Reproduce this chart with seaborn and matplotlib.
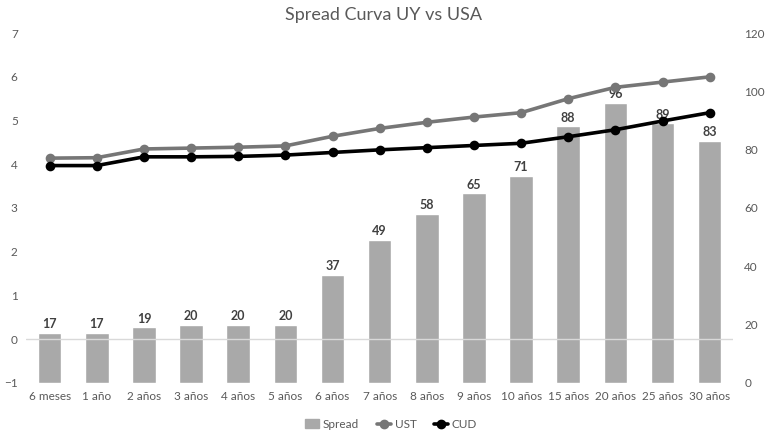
import numpy as np
import pandas as pd
import matplotlib
matplotlib.use("Agg")
import matplotlib.pyplot as plt
import seaborn as sns
from matplotlib.patches import Patch
from matplotlib.lines import Line2D

# ------------------------------------------------------------------
# DATOS
# ------------------------------------------------------------------
plazos = ["6 meses", "1 año", "2 años", "3 años", "4 años", "5 años", "6 años",
          "7 años", "8 años", "9 años", "10 años", "15 años", "20 años",
          "25 años", "30 años"]
spread = [17, 17, 19, 20, 20, 20, 37, 49, 58, 65, 71, 88, 96, 89, 83]
ust = [4.14, 4.15, 4.35, 4.37, 4.39, 4.42, 4.64, 4.82, 4.96, 5.08, 5.18,
       5.50, 5.76, 5.88, 6.00]
cud = [3.97, 3.97, 4.17, 4.17, 4.18, 4.21, 4.27, 4.33, 4.38, 4.43, 4.48,
       4.63, 4.79, 4.99, 5.18]

df = pd.DataFrame({"plazo": plazos, "spread": spread, "ust": ust, "cud": cud})

# ------------------------------------------------------------------
# ESTILO
# ------------------------------------------------------------------
sns.set_style("white")
plt.rcParams["font.family"] = ["Lato", "DejaVu Sans"]
txt = "#595959"
c_bar = "#a9a9a9"
c_ust = "#767676"
c_cud = "#000000"

fig = plt.figure(figsize=(7.67, 4.36), dpi=100)
ax = fig.add_axes([0.034, 0.122, 0.922, 0.802])

# barras -> eje derecho
sns.barplot(data=df, x="plazo", y="spread", color=c_bar, width=0.5,
            saturation=1, ax=ax, zorder=1)
ax.set_ylim(0, 120)
ax.set_yticks(range(0, 121, 20))
ax.bar_label(ax.containers[0], fontsize=9, color="#404040",
             fontweight="bold", padding=2)

# lineas -> eje izquierdo
ax2 = ax.twinx()
ax2.yaxis.tick_left()
ax.yaxis.tick_right()
ax2.axhline(0, color="#d9d9d9", lw=1, zorder=0)
sns.pointplot(data=df, x="plazo", y="ust", color=c_ust, markers="o",
              markersize=5, linewidth=2.6, ax=ax2)
sns.pointplot(data=df, x="plazo", y="cud", color=c_cud, markers="o",
              markersize=5, linewidth=2.6, ax=ax2)
ax2.set_ylim(-1, 7)
ax2.set_yticks(range(-1, 8))
ax2.set_xlim(-0.5, len(plazos) - 0.5)

for a in (ax, ax2):
    a.set_xlabel("")
    a.set_ylabel("")
    for s in a.spines.values():
        s.set_visible(False)
    a.tick_params(length=0, labelsize=8.5, colors=txt)
ax.tick_params(axis="x", pad=6)
ax2.tick_params(axis="y", pad=6)
ax.tick_params(axis="y", pad=8)

fig.suptitle("Spread Curva UY vs USA", y=0.985, fontsize=13, color=txt)

handles = [Patch(color=c_bar, label="Spread"),
           Line2D([], [], color=c_ust, lw=2.6, marker="o", ms=6, label="UST"),
           Line2D([], [], color=c_cud, lw=2.6, marker="o", ms=6, label="CUD")]
leg = fig.legend(handles=handles, loc="lower center", ncol=3, frameon=False,
                 bbox_to_anchor=(0.51, -0.01), fontsize=8.5, handlelength=1.2,
                 columnspacing=1.5, handletextpad=0.3)
for t in leg.get_texts():
    t.set_color(txt)

fig.savefig("out.png", dpi=100)
plt.close(fig)
